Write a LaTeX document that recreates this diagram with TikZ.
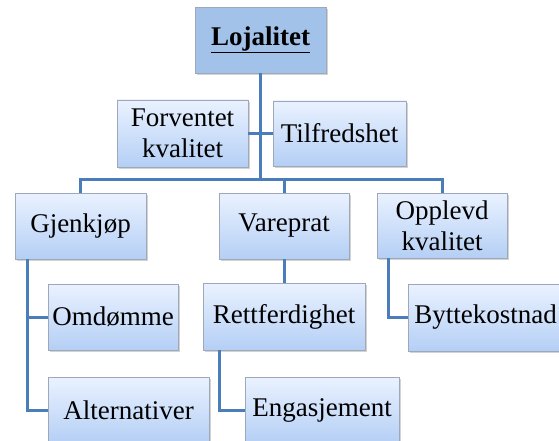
\documentclass[tikz,border=0pt]{standalone}
\usepackage{fontspec}
\setmainfont{Liberation Serif}
\usetikzlibrary{shadows, positioning}
\definecolor{my_steelblue}{RGB}{74, 126, 187}
\definecolor{my_topblue}{RGB}{234, 242, 255}
\definecolor{my_bottomblue}{RGB}{180, 207, 245}
\definecolor{my_headblue}{RGB}{162, 194, 233}
\definecolor{my_border}{RGB}{158, 168, 184}
\tikzset {
  head/.style = {draw=my_border, fill=my_headblue, text centered, minimum height=66pt, inner sep=2pt, drop shadow={opacity=0.35, shadow xshift=2pt, shadow yshift=-2pt}},
  box/.style = {draw=my_border, top color=my_topblue, bottom color=my_bottomblue, text centered, align=center, minimum height=66pt, inner sep=2pt, drop shadow={opacity=0.35, shadow xshift=2pt, shadow yshift=-2pt}},
  line/.style = {draw=my_steelblue, line width=3pt},
}

\begin{document}
\begin{tikzpicture}[x=1pt, y=-1pt, font=\rmfamily\fontsize{27}{31}\selectfont, text=black]

    \useasboundingbox (0,0) rectangle (559,441);
    \clip (0,0) rectangle (559,441);

    \node[head, name=loj, minimum width=131pt] (loj) at (260.5,40) {\underline{\textbf{Lojalitet}}};
    \node[box, name=forv, minimum width=131pt, minimum height=67pt] (forv) at (182.5,133.5) {Forventet\\kvalitet};
    \node[box, name=tilf, minimum width=133pt, minimum height=65pt] (tilf) at (339.5,133.5) {Tilfredshet};

    \node[box, name=gjen, minimum width=131pt] (gjen) at (80.5,226) {Gjenkjøp};
    \node[box, name=vare, minimum width=130pt] (vare) at (284,226) {Vareprat};
    \node[box, name=opp, minimum width=130pt, minimum height=65pt] (opp) at (442,225.5) {Opplevd\\kvalitet};

    \node[box, name=omd, minimum width=130pt] (omd) at (113,317) {Omdømme};
    \node[box, name=rett, minimum width=162pt, minimum height=67pt] (rett) at (284,316.5) {Rettferdighet};
    \node[box, name=bytt, minimum width=155pt, minimum height=67pt] (bytt) at (485.5,317.5) {Byttekostnad};

    \node[box, name=alt, minimum width=161pt] (alt) at (128.5,410) {Alternativer};
    \node[box, name=enga, minimum width=154pt] (enga) at (322,410) {Engasjement};

    % bus under the top box
    \coordinate (busy) at (0,179);
    \coordinate (hub) at (loj.south |- busy);

    \draw[line] (loj.south) -- (hub);
    \draw[line] (forv.east) -- (tilf.west);
    \draw[line] (gjen.north) |- (hub) -| (opp.north);
    \draw[line] (vare.north) -- (vare.north |- hub);

    \draw[line] ([xshift=13pt]gjen.south west) |- (omd.west);
    \draw[line] ([xshift=13pt]gjen.south west) |- (alt.west);
    \draw[line] (vare.south) -- (rett.north);
    \draw[line] ([xshift=17pt]rett.south west) |- (enga.west);
    \draw[line] ([xshift=12pt]opp.south west) |- (bytt.west);

\end{tikzpicture}
\end{document}
